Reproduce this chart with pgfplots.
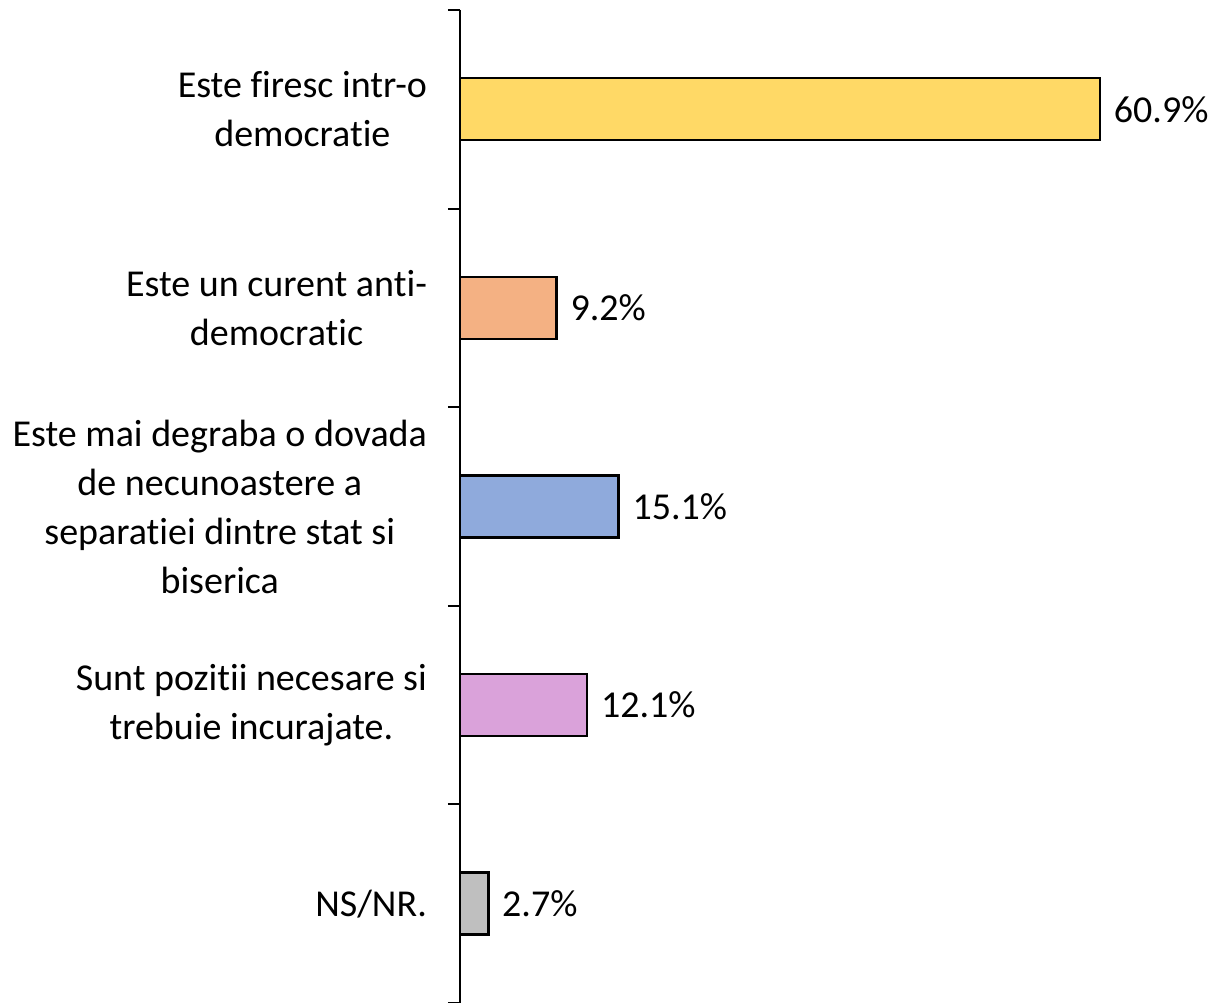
\documentclass[border=0pt]{standalone}
\usepackage{fontspec}
\setmainfont{Carlito}[Ligatures={NoCommon}]
\usepackage{pgfplots}
\pgfplotsset{compat=1.18}
\definecolor{cYel}{HTML}{FFD966}
\definecolor{cOra}{HTML}{F4B183}
\definecolor{cBlu}{HTML}{8FAADC}
\definecolor{cPin}{HTML}{DAA2DA}
\definecolor{cGra}{HTML}{BFBFBF}
\begin{document}
\begin{tikzpicture}
\begin{axis}[name=ax,
  xbar, scale only axis, width=367.85pt, height=496.5pt,
  xmin=0, xmax=70, ymin=-0.5, ymax=4.5, y dir=reverse,
  axis x line=none, axis y line*=left,
  y axis line style={line width=1pt, black},
  ytick={0,1,2,3,4},
  yticklabels={{Este firesc intr-o\\democratie},{Este un curent anti-\\democratic},{Este mai degraba o dovada\\de necunoastere a\\separatiei dintre stat si\\biserica},{Sunt pozitii necesare si\\trebuie incurajate.},{NS/NR.}},
  minor ytick={-0.5,0.5,1.5,2.5,3.5,4.5},
  major tick length=0pt, minor tick length=6pt, tick align=outside,
  minor tick style={line width=1pt, black},
  yticklabel style={align=center, anchor=east, font=\fontsize{19}{24.5}\selectfont, xshift=-13pt},
  bar shift=0pt, bar width=31pt,
  /pgf/number format/assume math mode=true,
  nodes near coords={\pgfmathprintnumber[fixed,fixed zerofill,precision=1,assume math mode=true]{\pgfplotspointmeta}\%},
  every node near coord/.append style={font=\fontsize{19}{24}\selectfont, anchor=west, black, xshift=3pt},
  every axis plot/.append style={draw=black, line width=1.2pt},
]
\addplot[fill=cYel] coordinates {(60.9,0)};
\addplot[fill=cOra] coordinates {(9.2,1)};
\addplot[fill=cBlu] coordinates {(15.1,2)};
\addplot[fill=cPin] coordinates {(12.1,3)};
\addplot[fill=cGra] coordinates {(2.7,4)};
\end{axis}
\pgfresetboundingbox
\path ([xshift=-230pt]ax.south west) rectangle ([xshift=378.5pt,yshift=5pt]ax.north west);
\end{tikzpicture}
\end{document}
